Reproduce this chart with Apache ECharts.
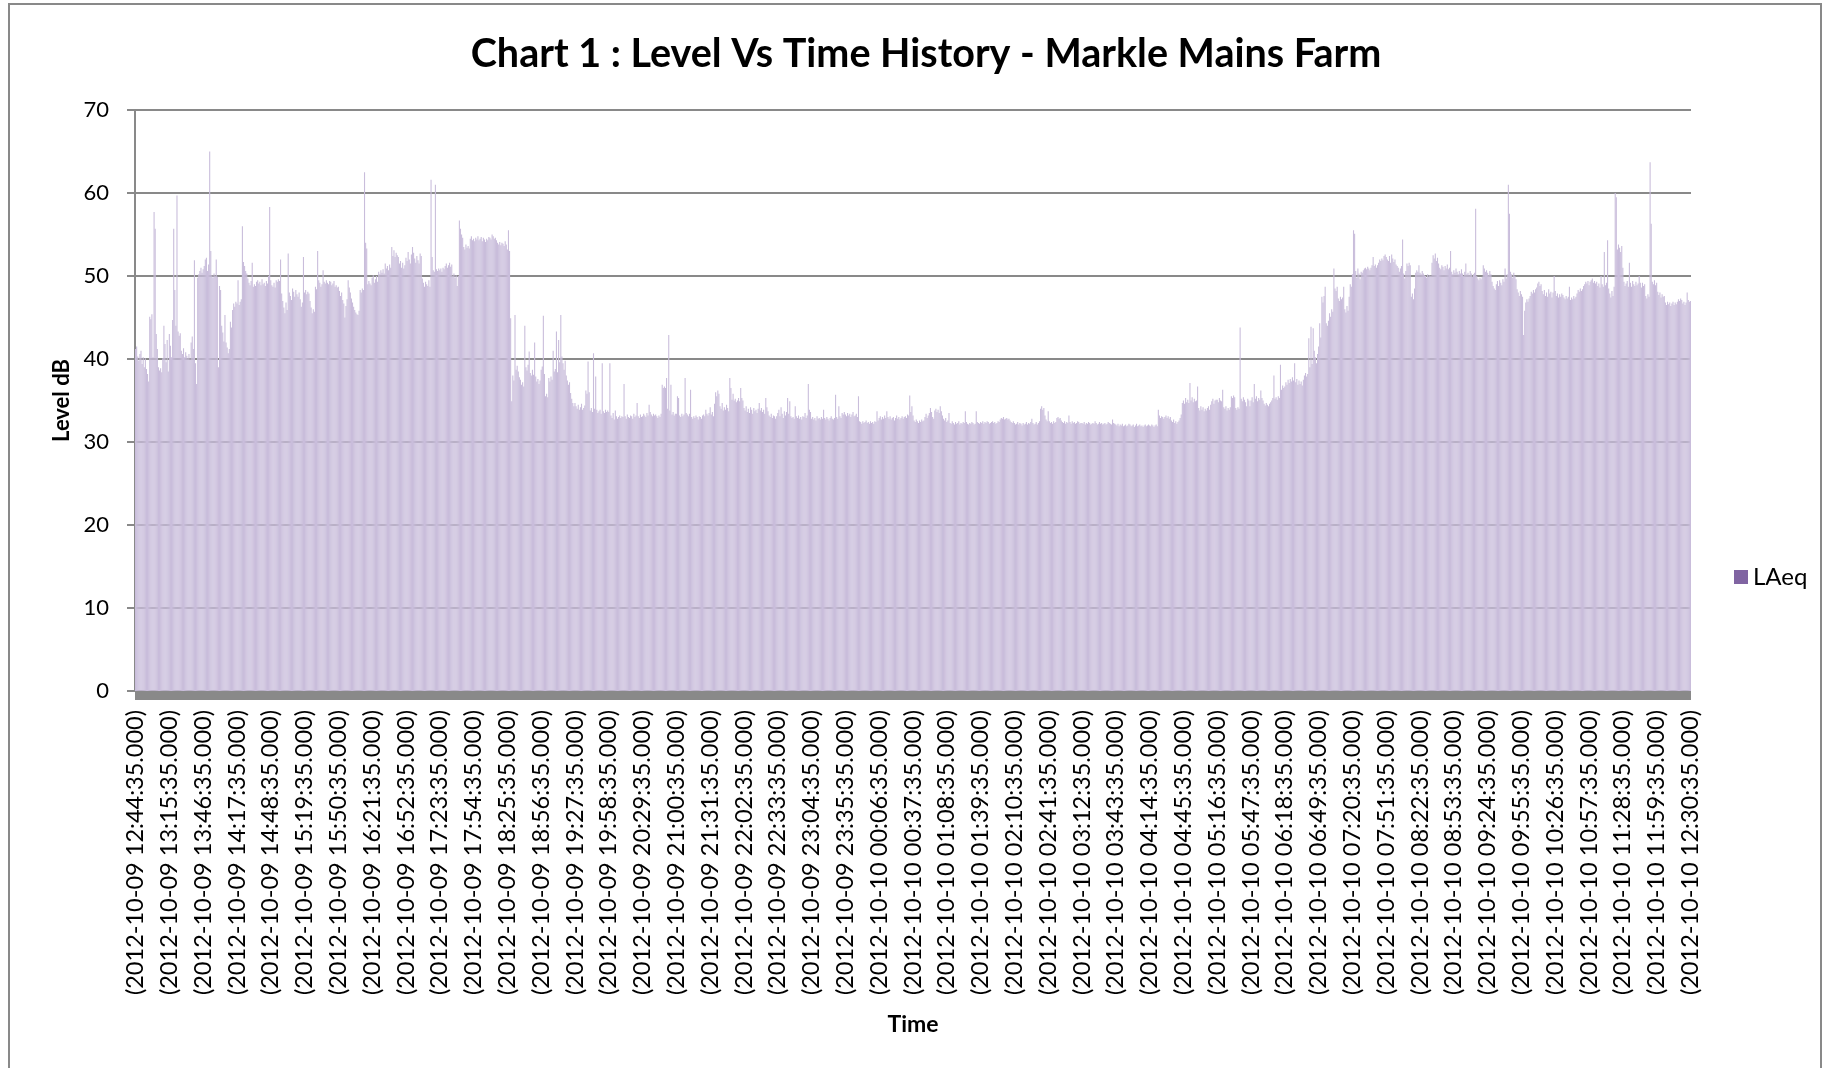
<!DOCTYPE html>
<html>
<head>
<meta charset="utf-8">
<title>Chart 1 : Level Vs Time History - Markle Mains Farm</title>
<script src="https://cdn.jsdelivr.net/npm/echarts@6/dist/echarts.min.js"></script>
<style>
html, body { margin: 0; padding: 0; background: #fff; }
#main { width: 1827px; height: 1068px; }
</style>
</head>
<body>
<div id="main"></div>
<script>
/* LAeq, one value per minute (31 minutes per line = one axis label step) */
// 12:44 - 18:25
var laeqAfternoon = [
	41.2, 41.5, 40.3, 39.8, 40.6, 41.0, 39.4, 40.2, 39.0, 40.1, 38.8, 38.2, 37.3, 45.1, 44.8, 45.4, 40.2, 57.7, 55.7, 43.0, 41.2, 39.0, 38.6, 38.9, 38.4, 40.1, 44.0, 41.8, 39.6, 42.3, 38.5,
	43.0, 41.6, 40.2, 44.7, 55.7, 48.3, 44.0, 59.7, 43.3, 42.8, 43.1, 41.0, 40.6, 41.3, 40.2, 40.8, 40.4, 40.1, 40.6, 39.9, 42.0, 42.7, 41.2, 51.9, 39.5, 37.0, 49.8, 50.2, 50.6, 51.0, 50.4,
	50.8, 51.2, 52.0, 52.2, 50.6, 51.4, 65.0, 53.0, 50.1, 49.8, 50.3, 50.0, 52.0, 49.9, 39.0, 48.8, 48.3, 44.0, 43.2, 42.1, 45.3, 42.0, 41.4, 40.7, 41.2, 44.5, 43.8, 45.9, 46.7, 46.3, 46.9,
	46.7, 49.5, 46.5, 46.9, 47.2, 56.0, 51.7, 51.2, 50.6, 50.3, 49.7, 49.2, 48.9, 49.4, 51.6, 48.7, 49.0, 48.8, 49.3, 49.5, 49.1, 49.3, 48.9, 49.6, 49.0, 49.2, 48.8, 49.4, 49.1, 50.0, 58.3,
	49.5, 48.9, 48.7, 49.2, 48.6, 49.5, 49.3, 49.6, 49.4, 52.0, 47.9, 47.0, 46.2, 45.5, 46.8, 45.9, 52.7, 48.0, 47.6, 47.1, 48.5, 48.1, 47.5, 48.3, 47.8, 47.5, 48.0, 47.2, 46.3, 46.8, 52.3,
	48.0, 48.3, 47.8, 48.1, 47.9, 47.0, 46.2, 45.5, 46.0, 45.7, 48.7, 48.4, 53.0, 49.5, 49.2, 48.7, 49.0, 50.7, 49.3, 49.1, 49.5, 49.2, 49.0, 49.4, 49.3, 48.9, 49.1, 49.4, 48.7, 48.9, 48.6,
	48.7, 48.2, 47.6, 48.0, 47.1, 46.7, 45.0, 46.4, 47.2, 49.5, 48.6, 48.0, 47.3, 46.8, 46.3, 45.9, 45.6, 45.4, 45.3, 45.8, 48.3, 48.0, 48.5, 48.3, 62.5, 54.0, 53.3, 49.0, 49.4, 49.1, 48.9,
	49.8, 50.1, 49.2, 49.6, 50.0, 49.3, 50.5, 50.2, 50.7, 50.4, 50.8, 50.3, 51.5, 50.9, 51.2, 50.7, 51.4, 51.0, 53.5, 52.4, 53.1, 52.3, 52.8, 52.5, 52.3, 51.5, 51.8, 51.0, 51.6, 50.9, 51.3,
	52.2, 51.8, 52.9, 52.0, 51.5, 52.6, 53.5, 52.8, 52.1, 51.6, 52.4, 51.9, 51.5, 52.7, 52.4, 49.7, 49.2, 48.7, 49.3, 49.0, 48.8, 49.5, 48.7, 61.6, 52.3, 50.7, 50.5, 61.0, 50.8, 50.6, 50.9,
	50.7, 50.9, 50.5, 51.0, 50.8, 51.2, 51.5, 51.0, 51.3, 51.6, 51.1, 51.4, 50.0, 50.3, 49.8, 50.1, 48.8, 50.0, 56.7, 55.7, 55.0, 54.6, 53.5, 53.2, 53.8, 53.4, 53.6, 53.3, 54.5, 54.8, 54.3,
	54.5, 54.2, 54.6, 54.4, 54.8, 54.3, 54.5, 54.7, 54.2, 54.6, 54.4, 54.1, 54.5, 54.3, 54.7, 54.6, 54.4, 55.0, 54.8, 54.5, 54.6, 54.3, 54.0, 53.8, 54.1, 53.7, 54.0, 53.9, 53.6, 54.2, 53.8
];
// 18:25 - 00:06
var laeqEvening = [
	53.2, 55.5, 53.0, 44.9, 34.9, 38.0, 37.4, 45.3, 38.7, 39.2, 38.5, 37.8, 37.5, 36.9, 37.2, 36.7, 44.0, 39.0, 38.6, 39.3, 40.9, 38.3, 38.0, 38.7, 38.1, 42.0, 37.9, 37.3, 37.6, 37.0, 37.4,
	38.7, 39.1, 45.2, 38.2, 35.5, 35.8, 35.4, 37.7, 37.3, 37.9, 37.5, 41.0, 38.5, 38.8, 43.3, 38.4, 42.3, 39.6, 45.3, 40.3, 39.5, 38.7, 39.8, 38.0, 37.4, 36.9, 37.2, 35.9, 35.2, 34.7, 34.3,
	34.7, 34.3, 34.0, 34.5, 33.9, 34.2, 34.6, 33.9, 34.1, 34.4, 36.2, 35.8, 39.7, 36.0, 33.8, 34.1, 33.6, 40.7, 34.0, 37.9, 33.9, 33.5, 33.7, 33.9, 33.4, 39.5, 33.7, 33.5, 33.9, 33.6, 33.8,
	33.6, 39.5, 33.2, 32.9, 33.5, 32.7, 33.8, 33.1, 32.8, 33.0, 33.2, 32.9, 33.1, 33.0, 37.0, 33.1, 32.8, 33.3, 33.0, 32.9, 33.2, 33.1, 32.8, 33.4, 33.0, 33.2, 34.7, 33.1, 32.9, 33.3, 33.0,
	33.1, 33.4, 33.2, 33.0, 33.5, 33.2, 34.5, 33.6, 33.3, 33.1, 33.4, 33.2, 33.3, 33.1, 32.9, 33.2, 33.0, 33.4, 36.9, 36.5, 36.7, 36.5, 37.7, 34.0, 42.9, 33.8, 36.9, 33.3, 33.6, 33.2, 33.4,
	33.4, 35.5, 35.3, 33.2, 33.0, 33.4, 33.1, 33.3, 37.7, 33.5, 33.3, 33.1, 33.4, 36.3, 33.0, 32.8, 33.1, 32.9, 33.2, 33.0, 32.7, 33.1, 33.0, 32.8, 33.2, 33.3, 33.1, 33.9, 33.4, 33.2, 33.5,
	34.2, 33.3, 33.6, 33.1, 34.6, 36.0, 35.5, 36.2, 35.8, 34.3, 34.0, 34.7, 33.8, 34.2, 33.9, 34.5, 34.1, 33.7, 37.7, 36.5, 35.1, 35.8, 35.0, 35.2, 34.8, 35.0, 35.3, 34.9, 36.5, 35.3, 35.0,
	34.1, 33.8, 34.3, 33.6, 34.0, 33.5, 34.2, 33.9, 33.4, 34.1, 33.7, 33.9, 33.5, 34.0, 34.7, 33.8, 34.1, 33.6, 33.9, 33.4, 35.3, 34.2, 33.7, 33.2, 33.0, 33.4, 32.9, 33.2, 33.1, 32.8, 33.1,
	33.5, 33.9, 33.1, 34.2, 33.4, 32.9, 33.7, 33.2, 33.6, 35.3, 33.4, 34.9, 33.1, 32.9, 33.0, 32.8, 34.3, 33.1, 32.9, 33.2, 32.8, 33.0, 32.7, 33.1, 33.0, 33.5, 32.9, 33.2, 37.0, 33.9, 33.6,
	32.8, 33.0, 32.7, 32.9, 32.6, 33.1, 32.8, 32.9, 32.7, 33.0, 32.8, 33.9, 32.9, 32.7, 33.0, 32.8, 32.6, 32.9, 33.1, 32.8, 32.7, 32.9, 35.7, 33.0, 32.8, 34.3, 33.1, 32.9, 33.5, 33.3, 33.6,
	33.3, 33.1, 33.5, 33.2, 33.4, 33.0, 33.3, 33.6, 33.1, 33.2, 33.4, 33.0, 35.5, 32.5, 32.4, 32.2, 32.5, 32.3, 32.4, 32.6, 32.3, 32.4, 32.2, 32.5, 32.3, 32.4, 32.2, 32.5, 32.4, 33.7, 32.6
];
// 00:06 - 06:18
var laeqNight = [
	32.9, 33.1, 32.7, 33.0, 32.8, 33.2, 32.9, 33.7, 33.0, 32.8, 33.1, 32.7, 32.9, 33.0, 32.6, 32.9, 33.2, 32.8, 33.0, 32.7, 32.9, 33.1, 32.8, 33.0, 33.1, 32.9, 33.3, 33.2, 35.6, 33.6, 34.3,
	33.2, 32.6, 32.4, 32.7, 32.5, 32.3, 32.6, 32.4, 32.7, 32.5, 32.6, 33.0, 33.4, 32.9, 33.2, 33.5, 34.1, 33.6, 33.0, 32.8, 33.8, 34.0, 33.6, 33.9, 33.5, 34.3, 33.7, 33.2, 32.8, 32.6, 32.9,
	32.4, 32.6, 33.5, 32.3, 32.2, 32.5, 32.3, 32.1, 32.4, 32.2, 32.3, 32.5, 32.1, 32.3, 32.2, 32.4, 32.3, 33.7, 32.4, 32.2, 32.1, 32.3, 32.2, 32.4, 32.3, 32.1, 32.2, 33.7, 32.4, 32.3, 32.2,
	32.4, 32.3, 32.5, 32.2, 32.4, 32.3, 32.5, 32.4, 32.2, 32.3, 32.4, 32.5, 32.3, 32.4, 32.2, 32.3, 32.5, 32.4, 32.7, 32.9, 32.8, 33.0, 32.7, 32.8, 32.9, 32.7, 32.8, 32.6, 32.4, 32.3, 32.5,
	32.3, 32.1, 32.2, 32.4, 32.1, 32.3, 32.2, 32.0, 32.3, 32.1, 32.2, 32.4, 32.1, 32.3, 32.2, 32.4, 32.8, 32.3, 32.1, 32.2, 32.4, 32.1, 32.3, 32.5, 34.0, 34.3, 33.9, 34.1, 33.2, 32.7, 32.5,
	33.7, 32.5, 32.3, 32.4, 32.2, 32.5, 32.3, 32.4, 32.9, 33.0, 32.8, 32.9, 32.6, 32.4, 32.3, 32.5, 32.2, 32.4, 32.3, 33.2, 32.4, 32.2, 32.5, 32.3, 32.4, 32.2, 32.3, 32.5, 32.4, 32.2, 32.3,
	32.3, 32.2, 32.4, 32.1, 32.3, 32.2, 32.4, 32.3, 32.1, 32.2, 32.3, 32.2, 32.5, 32.3, 32.1, 32.2, 32.4, 32.2, 32.3, 32.1, 32.2, 32.3, 32.1, 32.2, 32.4, 32.3, 32.2, 32.1, 32.7, 32.3, 32.2,
	32.1, 32.0, 32.2, 31.9, 32.1, 32.0, 32.2, 31.9, 32.0, 32.1, 31.9, 32.0, 32.2, 32.1, 31.9, 32.0, 32.1, 31.8, 32.0, 32.2, 31.9, 32.0, 32.1, 31.9, 32.0, 31.8, 32.0, 32.1, 31.9, 32.0, 32.1,
	32.0, 31.9, 32.1, 32.0, 31.8, 32.0, 32.1, 31.9, 33.9, 33.2, 32.9, 33.1, 33.0, 32.8, 33.0, 33.2, 32.9, 33.1, 32.8, 33.0, 32.6, 32.4, 32.7, 32.3, 32.5, 32.2, 32.4, 32.6, 32.9, 33.3, 34.7,
	35.0, 34.6, 35.3, 34.8, 35.1, 34.7, 37.1, 35.0, 35.4, 34.8, 35.2, 34.9, 35.0, 36.7, 34.1, 33.8, 34.3, 33.9, 34.2, 33.7, 34.0, 33.8, 34.1, 34.3, 33.9, 34.5, 34.9, 35.2, 34.6, 35.0, 35.1,
	35.1, 34.8, 35.3, 35.0, 34.9, 36.3, 34.2, 34.0, 34.3, 33.8, 34.1, 33.9, 34.2, 35.5, 35.3, 35.6, 35.4, 34.1, 33.9, 34.2, 34.0, 43.8, 35.2, 34.9, 35.4, 35.1, 34.8, 34.3, 35.2, 35.0, 34.3,
	35.0, 35.4, 34.8, 37.0, 35.2, 35.5, 34.9, 35.3, 35.1, 36.2, 35.3, 35.0, 34.6, 34.4, 34.7, 34.5, 34.3, 34.6, 34.8, 35.0, 35.3, 38.0, 35.2, 35.4, 35.1, 35.5, 35.3, 39.3, 36.3, 36.8, 36.5
];
// 06:18 - 12:30
var laeqMorning = [
	36.7, 37.2, 36.9, 37.5, 37.1, 37.6, 37.3, 37.8, 37.4, 39.5, 37.2, 37.6, 36.9, 37.4, 37.0, 37.3, 36.8, 37.5, 38.0, 38.3, 37.9, 38.2, 42.5, 39.0, 43.9, 39.4, 43.7, 41.0, 40.2, 39.5, 40.6,
	41.5, 44.3, 42.6, 47.5, 46.8, 47.6, 48.7, 44.3, 44.0, 44.6, 45.5, 45.1, 46.0, 45.7, 50.9, 48.5, 48.2, 48.7, 47.3, 47.0, 47.5, 47.2, 47.4, 48.7, 46.0, 45.6, 46.4, 45.8, 47.5, 49.0, 48.7,
	50.2, 55.5, 55.1, 50.6, 49.8, 50.9, 50.3, 49.6, 50.5, 50.4, 50.7, 50.9, 51.0, 50.8, 51.1, 50.9, 50.7, 51.0, 51.3, 52.3, 51.2, 51.4, 51.0, 51.3, 51.6, 52.0, 51.8, 52.1, 51.9, 52.4, 52.6,
	52.3, 52.0, 51.8, 52.4, 51.6, 52.6, 52.1, 51.7, 52.0, 51.4, 51.2, 51.0, 50.5, 50.9, 51.2, 54.4, 50.3, 49.7, 50.6, 51.5, 51.2, 51.6, 51.3, 47.5, 47.9, 47.2, 48.5, 50.4, 50.7, 50.5, 51.3,
	50.4, 50.2, 50.6, 50.3, 50.1, 50.0, 49.8, 50.2, 49.9, 50.1, 50.0, 51.6, 52.5, 52.1, 52.7, 51.8, 52.2, 51.5, 51.0, 50.8, 51.3, 51.1, 50.7, 51.2, 50.9, 51.4, 50.8, 51.0, 53.0, 50.5, 50.2,
	50.7, 50.4, 50.9, 50.5, 50.2, 50.6, 50.3, 50.8, 50.3, 50.0, 50.5, 51.5, 50.2, 50.4, 50.1, 50.6, 50.3, 49.9, 50.2, 50.4, 58.1, 50.0, 49.7, 49.5, 49.8, 49.6, 49.9, 51.3, 50.9, 50.5, 50.7,
	50.4, 50.1, 50.6, 50.2, 49.3, 48.8, 48.5, 48.3, 49.0, 49.4, 48.8, 49.5, 49.2, 48.9, 49.6, 49.3, 50.9, 49.7, 50.2, 61.0, 57.5, 50.5, 50.2, 49.8, 50.4, 50.0, 49.6, 48.4, 48.0, 47.6, 48.2,
	47.8, 47.5, 42.9, 45.8, 46.8, 47.2, 46.9, 47.3, 47.6, 48.1, 47.9, 48.3, 48.0, 48.4, 48.6, 49.1, 49.3, 48.8, 49.0, 48.2, 47.8, 48.3, 47.6, 48.0, 47.5, 48.4, 47.9, 48.1, 47.4, 48.0, 50.0,
	48.2, 47.6, 47.9, 47.4, 47.8, 47.5, 47.9, 47.7, 47.4, 47.2, 47.6, 47.3, 47.5, 48.7, 47.1, 47.4, 47.2, 47.6, 47.3, 47.5, 47.9, 48.3, 48.1, 48.5, 48.2, 48.4, 48.8, 49.0, 49.3, 49.1, 49.4,
	48.9, 49.3, 49.5, 49.7, 49.2, 49.4, 49.1, 49.3, 48.8, 49.1, 48.6, 50.0, 49.0, 48.7, 52.9, 48.9, 49.2, 54.3, 48.5, 47.9, 47.4, 48.2, 47.6, 48.7, 60.0, 59.5, 53.2, 53.8, 53.4, 52.9, 53.6,
	51.0, 49.3, 48.8, 49.1, 49.4, 48.7, 51.6, 49.2, 48.7, 49.4, 49.0, 48.8, 49.3, 48.9, 49.1, 50.0, 49.2, 48.6, 49.2, 48.8, 49.0, 47.6, 47.3, 47.8, 47.5, 63.7, 56.3, 49.3, 49.0, 49.5, 48.9,
	49.2, 48.1, 47.7, 48.0, 47.4, 47.8, 47.5, 47.6, 46.8, 46.5, 46.9, 46.6, 46.8, 46.4, 46.7, 46.9, 46.5, 46.8, 46.6, 46.9, 47.2, 47.0, 47.3, 47.1, 46.7, 46.9, 46.5, 46.8, 48.0, 47.1, 46.9,
	47.0
];

var laeq = laeqAfternoon.concat(laeqEvening, laeqNight, laeqMorning);

// time stamps: one sample per minute from 2012-10-09 12:44:35
var startDay = 9, startMinute = 12 * 60 + 44;
var labelStep = 31;
var categories = [];
function pad(n) {
	return n < 10 ? "0" + n : "" + n;
}
for (var i = 0; i < laeq.length; i++) {
	var t = startMinute + i;
	var day = startDay + Math.floor(t / 1440);
	var m = t % 1440;
	categories.push("(2012-10-" + pad(day) + " " + pad(Math.floor(m / 60)) + ":" + pad(m % 60) + ":35.000)");
}

var yTicks = [0, 10, 20, 30, 40, 50, 60, 70];

var font = "Lato";
var myChart = echarts.init(document.getElementById('main'), null, { renderer: 'canvas' });
var option = {
	animation: false,
	backgroundColor: '#ffffff',
	title: {
		text: 'Chart 1 : Level Vs Time History - Markle Mains Farm',
		left: 921,
		top: 29,
		textAlign: 'center',
		textStyle: {
			fontFamily: font,
			fontWeight: 'bold',
			fontSize: 39.5,
			color: '#000'
		}
	},
	legend: {
		data: ['LAeq'],
		left: 1729,
		top: 560,
		icon: 'rect',
		itemWidth: 14,
		itemHeight: 14,
		itemStyle: { color: '#8064a2', opacity: 1 },
		textStyle: { fontFamily: font, fontSize: 24, color: '#000' }
	},
	grid: {
		left: 135,
		top: 110,
		width: 1556,
		height: 581
	},
	xAxis: {
		type: 'category',
		data: categories,
		name: 'Time',
		nameLocation: 'middle',
		nameGap: 318,
		nameTextStyle: { fontFamily: font, fontWeight: 'bold', fontSize: 23, color: '#000' },
		offset: 4,
		// thick grey band under the bars
		axisLine: { onZero: false, lineStyle: { color: '#898989', width: 10, cap: 'butt' } },
		axisTick: { show: false },
		axisLabel: {
			interval: labelStep - 1,
			rotate: 90,
			margin: 15,
			fontFamily: font,
			fontSize: 23.5,
			color: '#000'
		},
		splitLine: { show: false }
	},
	yAxis: {
		type: 'value',
		min: yTicks[0],
		max: yTicks[yTicks.length - 1],
		interval: 10,
		name: 'Level dB',
		nameLocation: 'middle',
		nameRotate: 90,
		nameGap: 62,
		nameTextStyle: { fontFamily: font, fontWeight: 'bold', fontSize: 22, color: '#000' },
		axisLine: { show: true, lineStyle: { color: '#898989', width: 2 } },
		axisTick: { show: true, length: 8, lineStyle: { color: '#898989', width: 2 } },
		axisLabel: { margin: 26, fontFamily: font, fontSize: 22, color: '#000' },
		splitLine: { lineStyle: { color: '#898989', width: 2 } }
	},
	series: [{
		name: 'LAeq',
		type: 'bar',
		data: laeq,
		barCategoryGap: '0%',
		itemStyle: { color: '#c9bddb' }
	}],
	graphic: [{
		type: 'rect',
		shape: { x: 9, y: 4, width: 1812, height: 1100 },
		style: { fill: null, stroke: '#898989', lineWidth: 2 },
		silent: true
	}]
};
myChart.setOption(option);
</script>
</body>
</html>
